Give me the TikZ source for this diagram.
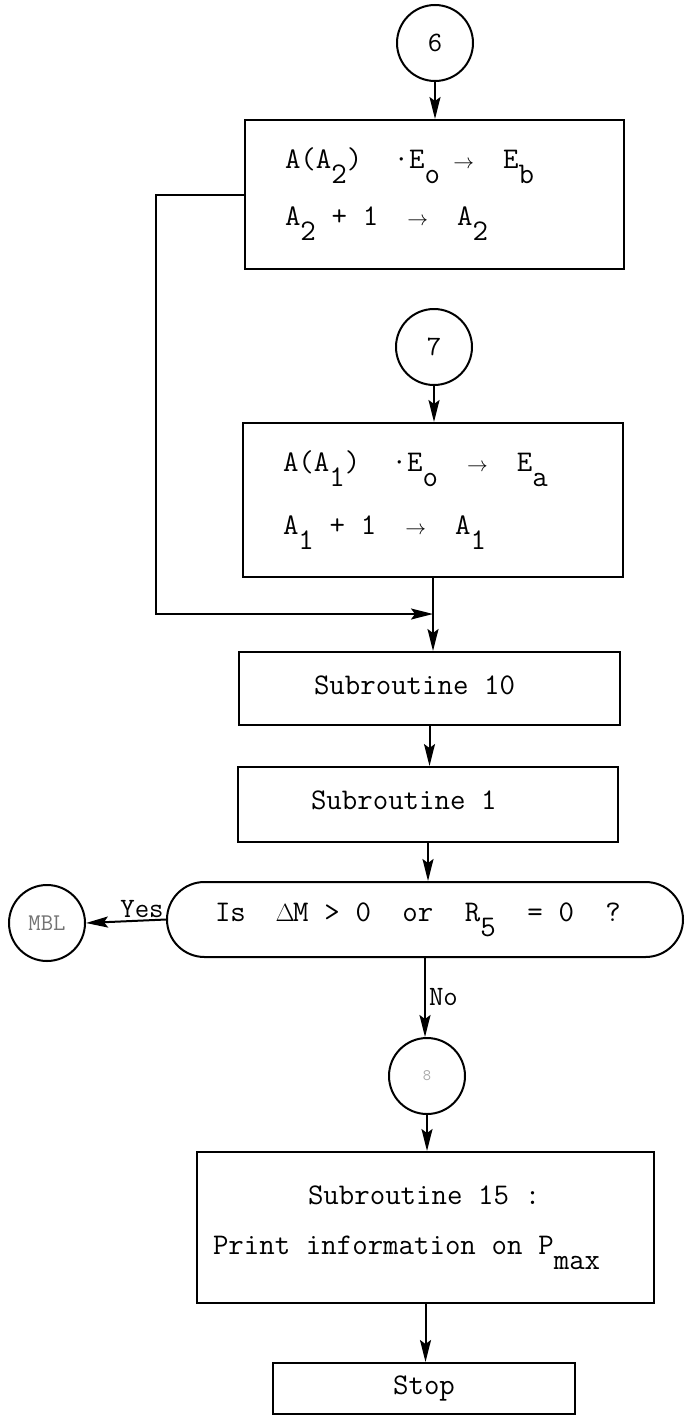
\documentclass[tikz,border=0pt]{standalone}
\usepackage{fontspec}
\usetikzlibrary{arrows.meta, positioning, shapes.misc}
\newcommand{\lowsub}[1]{\raisebox{-0.5em}{#1}}
\newcommand{\blank}{\makebox[0.525em]{}}
\newcommand{\tar}{\makebox[0.525em]{\fontsize{22}{22}\selectfont$\rightarrow$}}
\newcommand{\dlt}{\makebox[0.525em]{\fontsize{24}{24}\selectfont$\Delta$}}
\newcommand{\typefont}[2]{\ttfamily\fontsize{#1}{#2}\selectfont}

\begin{document}
\begin{tikzpicture}[x=1pt, y=-1pt,
    box/.style={draw, line width=2pt, minimum width=#1, inner sep=0pt,
                font=\typefont{30}{57}},
    conn/.style={draw, circle, line width=2pt, minimum size=76pt, inner sep=0pt,
                 font=\typefont{28}{30}},
    flow/.style={line width=2pt, -{Stealth[length=22pt, width=11pt, inset=4pt]}}
]
    \useasboundingbox (0,0) rectangle (685,1416);

    \node[conn] (c6) at (435,43) {6};
    \node[box=379pt, minimum height=149pt, align=left, text width=299pt] (b1) at (434.5,194.5)
        {A(A\lowsub{2})\blank\blank·E\lowsub{o}\blank\tar\blank\blank E\lowsub{b}\\
         A\lowsub{2}\blank+\blank 1\blank\blank\tar\blank\blank A\lowsub{2}};

    \node[conn] (c7) at (434,347) {7};
    \node[box=380pt, minimum height=154pt, align=left, text width=300pt,
          font=\typefont{30}{63}] (b2) at (433,500)
        {A(A\lowsub{1})\blank\blank·E\lowsub{o}\blank\blank\tar\blank\blank E\lowsub{a}\\
         A\lowsub{1}\blank+\blank 1\blank\blank\tar\blank\blank A\lowsub{1}};
    \path (b2.south) ++(0,36) coordinate (join);

    \node[box=381pt, minimum height=73pt, align=left, text width=231pt] (s10) at (429.5,688.5)
        {\raisebox{6pt}{Subroutine\blank 10}};
    \node[box=380pt, minimum height=75pt, align=left, text width=234pt] (s1) at (428,804.5)
        {\raisebox{9pt}{Subroutine\blank 1}};

    \node[box=516pt, minimum height=75pt, rounded rectangle, align=left, text width=420pt] (dec) at (425,919.5)
        {Is\blank\blank\dlt M\blank>\blank 0\blank\blank or\blank\blank R\lowsub{5}\blank\blank=\blank 0\blank\blank ?};
    \node[conn, font=\typefont{24}{26}, text=black!55] (mbl) at (47,923) {MBL};

    \node[conn, font=\typefont{16}{18}, text=black!35] (c8) at (427,1076) {8};
    \node[box=457pt, minimum height=151pt, align=left, text width=425pt,
          font=\typefont{30}{50}] (s15) at (425.5,1227.5)
        {\hspace*{95pt}Subroutine\blank 15\blank :\\Print\blank information\blank on\blank P\lowsub{max}};
    \node[box=302pt, minimum height=51pt] (stop) at (424,1388.5) {Stop};

    \draw[flow] (c6.south) -- (c6.south |- b1.north);
    \draw[flow] (b1.west) -- ++(-88,0) |- (join);
    \draw[flow] (c7.south) -- (c7.south |- b2.north);
    \draw[line width=2pt] (b2.south) -- (join);
    \draw[flow] (join) -- (join |- s10.north);
    \draw[flow] (s10.south) -- (s10.south |- s1.north);
    \draw[flow] (s1.south) -- (s1.south |- dec.north);
    \draw[flow] (dec.west) -- node[pos=0.3, above, inner sep=2pt, font=\typefont{28}{30}] {Yes} (mbl.east);
    \draw[flow] (dec.south) -- node[right, inner sep=3pt, font=\typefont{28}{30}] {No} (dec.south |- c8.north);
    \draw[flow] (c8.south) -- (c8.south |- s15.north);
    \draw[flow] (s15.south) -- (s15.south |- stop.north);
\end{tikzpicture}
\end{document}
